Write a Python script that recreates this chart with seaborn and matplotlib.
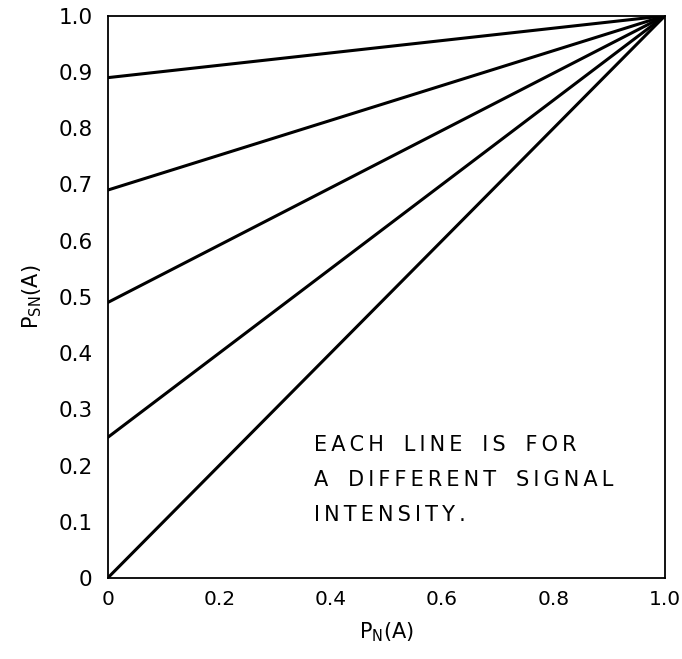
import matplotlib
matplotlib.use("Agg")
import matplotlib.pyplot as plt
import seaborn as sns
import pandas as pd

# Data: each line goes from (0, intercept) to (1, 1)
intercepts = [0.89, 0.69, 0.49, 0.25, 0.0]
x_start = 0.0
x_end = 1.0
y_end = 1.0
x_ticks = [0, 0.2, 0.4, 0.6, 0.8, 1.0]
x_tick_labels = ["0", "0.2", "0.4", "0.6", "0.8", "1.0"]
y_ticks = [0, 0.1, 0.2, 0.3, 0.4, 0.5, 0.6, 0.7, 0.8, 0.9, 1.0]
y_tick_labels = ["0", "0.1", "0.2", "0.3", "0.4", "0.5", "0.6", "0.7", "0.8", "0.9", "1.0"]
note_lines = ["EACH LINE IS FOR", "A DIFFERENT SIGNAL", "INTENSITY."]


def spaced(s):
    # wide lettering: thin space between letters, wider gap between words
    return "   ".join("\u2009".join(w) for w in s.split(" "))


note = "\n".join(spaced(l) for l in note_lines)

rows = []
for i, b in enumerate(intercepts):
    rows.append({"line": i, "x": x_start, "y": b})
    rows.append({"line": i, "x": x_end, "y": y_end})
df = pd.DataFrame(rows)

sns.set_style("white")
plt.rcParams["font.family"] = ["DejaVu Sans"]

fig = plt.figure(figsize=(6.82, 6.59), dpi=100)
ax = fig.add_axes([0.158, 0.123, 0.817, 0.853])

sns.lineplot(data=df, x="x", y="y", hue="line", units="line", estimator=None,
             palette=["black"] * len(intercepts), legend=False, linewidth=2.2, ax=ax)

ax.set_xlim(0, 1)
ax.set_ylim(0, 1)
ax.set_xticks(x_ticks)
ax.set_xticklabels(x_tick_labels)
ax.set_yticks(y_ticks)
ax.set_yticklabels(y_tick_labels)
ax.tick_params(axis="both", length=0, colors="black")
ax.tick_params(axis="x", pad=9, labelsize=14.5)
ax.tick_params(axis="y", pad=11, labelsize=15.5)
for s in ax.spines.values():
    s.set_visible(True)
    s.set_color("black")
    s.set_linewidth(1.3)

ax.set_xlabel("P$_\\mathregular{N}$(A)", fontsize=15, labelpad=8, color="black")
ax.set_ylabel("P$_\\mathregular{SN}$(A)", fontsize=15, labelpad=10, color="black")

ax.text(0.37, 0.255, note, transform=ax.transAxes, fontsize=15,
        va="top", ha="left", linespacing=1.95, color="black")

fig.savefig("out.png", dpi=100)
